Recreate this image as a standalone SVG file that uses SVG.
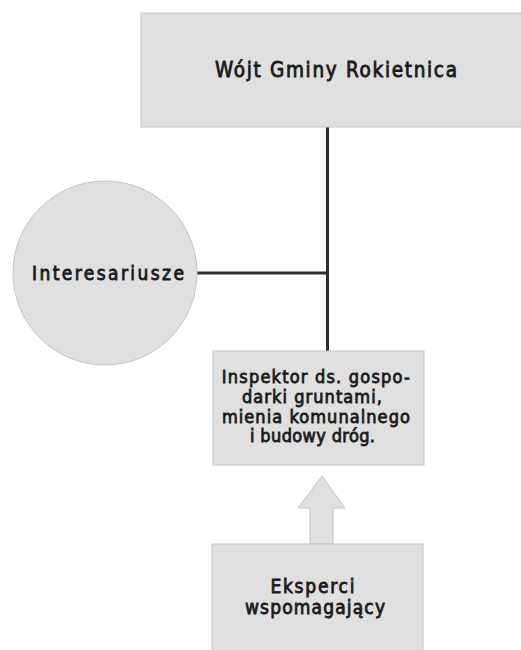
<svg xmlns="http://www.w3.org/2000/svg" width="521" height="650" viewBox="0 0 521 650">
<style>
.box{fill:#e0e0e0;stroke:#c4c4c4;stroke-width:1}
.t{font-family:"DejaVu Sans Condensed","DejaVu Sans","Liberation Sans",sans-serif;font-stretch:condensed;font-weight:normal;fill:#1a1a1a;stroke:#1a1a1a;stroke-width:0.8;text-anchor:middle}
.line{stroke:#2e2e2e;stroke-width:3;fill:none}
</style>
<rect width="521" height="650" fill="#ffffff"/>
<g id="connectors">
<line class="line" x1="327.5" y1="127" x2="327.5" y2="351"/>
<line class="line" x1="197" y1="273" x2="327.5" y2="273"/>
<polygon points="322,476 345,508 333,508 333,544 310,544 310,508 298,508" fill="#e0e0e0" stroke="#c4c4c4" stroke-width="1"/>
</g>
<g id="wojt">
<rect class="box" x="141" y="13" width="382" height="114"/>
<text class="t" x="336" y="77" font-size="20.5" textLength="242" lengthAdjust="spacing">Wójt Gminy Rokietnica</text>
</g>
<g id="interesariusze">
<circle class="box" cx="105" cy="273" r="92"/>
<text class="t" x="108" y="280" font-size="19" textLength="152" lengthAdjust="spacing">Interesariusze</text>
</g>
<g id="inspektor">
<rect class="box" x="213" y="351" width="211" height="114"/>
<text class="t" font-size="18">
<tspan x="319" y="383" textLength="188" lengthAdjust="spacing">Inspektor ds. gospo-</tspan>
<tspan x="315" y="403" textLength="140" lengthAdjust="spacing">darki gruntami,</tspan>
<tspan x="319" y="422.5" textLength="188" lengthAdjust="spacing">mienia komunalnego</tspan>
<tspan x="312.5" y="442" textLength="125" lengthAdjust="spacing">i budowy dróg.</tspan>
</text>
</g>
<g id="eksperci">
<rect class="box" x="212" y="544" width="211" height="110"/>
<text class="t" font-size="19">
<tspan x="316" y="592.5" textLength="84" lengthAdjust="spacing">Eksperci</tspan>
<tspan x="315" y="614" textLength="140" lengthAdjust="spacing">wspomagający</tspan>
</text>
</g>
</svg>
